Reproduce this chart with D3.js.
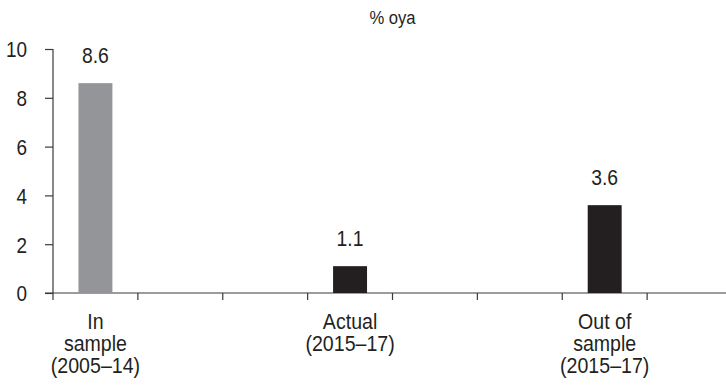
<!DOCTYPE html>
<html>
<head>
<meta charset="utf-8">
<script src="https://cdn.jsdelivr.net/npm/d3@7"></script>
<style>
  html, body { margin: 0; padding: 0; background: #fff; }
  svg { display: block; }
  text { font-family: "Liberation Sans", Arial, sans-serif; fill: #231f20; }
</style>
</head>
<body>
<svg id="chart" width="726" height="386"></svg>
<script>
// Category slots along the x axis (empty slots keep the spacing between groups)
const categories = ["in", "g1", "g2", "actual", "g3", "g4", "out", "g5"];
const categoryLabels = [
  ["In", "sample", "(2005\u201314)"], [], [],
  ["Actual", "(2015\u201317)"], [], [],
  ["Out of", "sample", "(2015\u201317)"], []
];
const values = [8.6, null, null, 1.1, null, null, 3.6, null];
const barColors = ["#939598", null, null, "#231f20", null, null, "#231f20", null];
const yTicks = [0, 2, 4, 6, 8, 10];
const unitLabel = "% oya";

const svg = d3.select("#chart");
const plotLeft = 53, plotRight = 732, plotTop = 49, plotBottom = 293;
const narrow = 0.89; // horizontal squeeze for a condensed look

const x = d3.scaleBand().domain(categories).range([plotLeft, plotRight]).padding(0);
const y = d3.scaleLinear().domain([0, 10]).range([plotBottom, plotTop]);
const bw = x.bandwidth();

const axisColor = "#3a3a3a";

// Y axis: ticks pointing left, labels squeezed horizontally
const yAxis = d3.axisLeft(y).tickValues(yTicks).tickSize(8).tickFormat(d3.format("d"));
const gy = svg.append("g").attr("transform", `translate(${plotLeft},0)`).call(yAxis);
gy.select(".domain").remove();
gy.selectAll(".tick line").attr("stroke", axisColor).attr("stroke-width", 1.2);
gy.selectAll(".tick text")
  .attr("x", null).attr("dy", null)
  .attr("text-anchor", "end")
  .attr("fill", "#231f20")
  .style("font-size", "22px")
  .attr("transform", `translate(-26,7.8) scale(0.86,1)`);
svg.append("line")
  .attr("x1", plotLeft).attr("x2", plotLeft)
  .attr("y1", y(10)).attr("y2", plotBottom + 7)
  .attr("stroke", axisColor).attr("stroke-width", 1.2);

// X axis baseline and boundary ticks
svg.append("line")
  .attr("x1", plotLeft - 8).attr("x2", 726)
  .attr("y1", plotBottom).attr("y2", plotBottom)
  .attr("stroke", axisColor).attr("stroke-width", 1.2);
svg.append("g").selectAll("line")
  .data(categories.slice(1))
  .join("line")
  .attr("x1", d => x(d)).attr("x2", d => x(d))
  .attr("y1", plotBottom).attr("y2", plotBottom + 7)
  .attr("stroke", axisColor).attr("stroke-width", 1.2);

// Bars
const barData = categories.map((c, i) => ({ c, v: values[i], color: barColors[i], lines: categoryLabels[i] }));
const shown = barData.filter(d => d.v !== null);

svg.append("g").selectAll("rect")
  .data(shown)
  .join("rect")
  .attr("x", d => x(d.c) + bw * 0.3)
  .attr("width", bw * 0.4)
  .attr("y", d => y(d.v))
  .attr("height", d => y(0) - y(d.v))
  .attr("fill", d => d.color);

// Value labels above bars
svg.append("g").selectAll("text")
  .data(shown)
  .join("text")
  .attr("transform", d => `translate(${x(d.c) + bw / 2},${y(d.v) - 20}) scale(0.88,1)`)
  .attr("text-anchor", "middle")
  .style("font-size", "22px")
  .text(d => d.v.toFixed(1));

// Category labels beneath the axis
const lab = svg.append("g").selectAll("text")
  .data(shown)
  .join("text")
  .attr("transform", d => `translate(${x(d.c) + bw / 2},329) scale(${narrow},1)`)
  .attr("text-anchor", "middle")
  .style("font-size", "22px");
lab.selectAll("tspan")
  .data(d => d.lines)
  .join("tspan")
  .attr("x", 0)
  .attr("dy", (d, i) => i === 0 ? 0 : 22)
  .text(d => d);

// Unit label
svg.append("text")
  .attr("transform", `translate(${(plotLeft + plotRight) / 2},24) scale(0.9,1)`)
  .attr("text-anchor", "middle")
  .style("font-size", "18.5px")
  .text(unitLabel);
</script>
</body>
</html>
